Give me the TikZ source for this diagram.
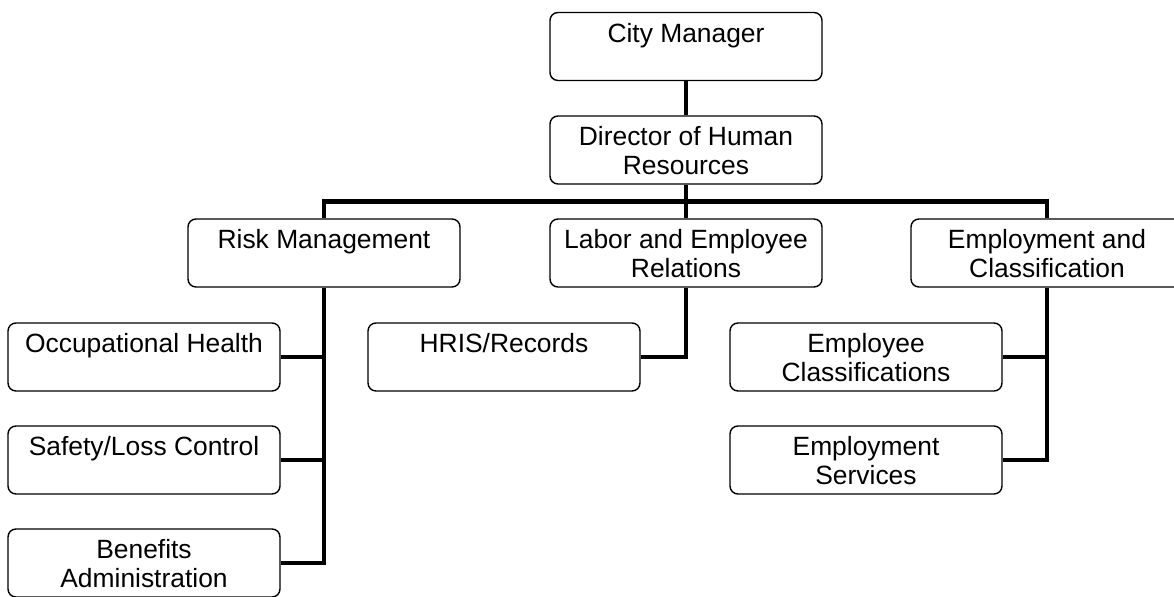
\documentclass[tikz,border=0pt]{standalone}
\usepackage{fontspec}
\setmainfont{Liberation Sans}
\usepackage{tikz}
\usetikzlibrary{positioning, calc}

% text sits at the top of each box
\newcommand{\boxlabel}[1]{\parbox[c][34pt][t]{136pt}{\centering\rule{0pt}{14.8pt}#1}}

\tikzset{
  office/.style={draw, rounded corners=4pt, line width=0.7pt, inner sep=0pt,
    font=\fontsize{13.2}{14.5}\selectfont},
  link/.style={line width=2.4pt}
}

\begin{document}
\begin{tikzpicture}[x=0.5pt, y=-0.5pt]
    \clip (0,0) rectangle (1174,597);
    % top of the chart
    \node[office] (cm)   at (686,46.5) {\boxlabel{City Manager}};
    \node[office] (dir)  at (686,150)  {\boxlabel{Director of Human\\Resources}};
    % divisions
    \node[office] (risk) at (324,253)  {\boxlabel{Risk Management}};
    \node[office] (lab)  at (686,253)  {\boxlabel{Labor and Employee\\Relations}};
    \node[office] (emp)  at (1047,253) {\boxlabel{Employment and\\Classification}};
    % sections
    \node[office] (occ)  at (144,357)  {\boxlabel{Occupational Health}};
    \node[office] (saf)  at (144,460)  {\boxlabel{Safety/Loss Control}};
    \node[office] (ben)  at (144,563)  {\boxlabel{Benefits\\Administration}};
    \node[office] (hris) at (504,357)  {\boxlabel{HRIS/Records}};
    \node[office] (ec)   at (866,357)  {\boxlabel{Employee\\Classifications}};
    \node[office] (es)   at (866,460)  {\boxlabel{Employment\\Services}};

    \coordinate (split) at ($(dir.south)!0.5!(lab.north)$);

    \draw[link] (cm.south) -- (dir.north);
    \draw[link] (dir.south) -- (lab.north);
    \draw[link] (risk.north) |- (split) -| (emp.north);
    % risk management
    \draw[link] (risk.south) |- (ben.east);
    \draw[link] (occ.east) -- (occ.east -| risk.south);
    \draw[link] (saf.east) -- (saf.east -| risk.south);
    % labor relations
    \draw[link] (lab.south) |- (hris.east);
    % employment
    \draw[link] (emp.south) |- (es.east);
    \draw[link] (ec.east) -- (ec.east -| emp.south);
\end{tikzpicture}
\end{document}
